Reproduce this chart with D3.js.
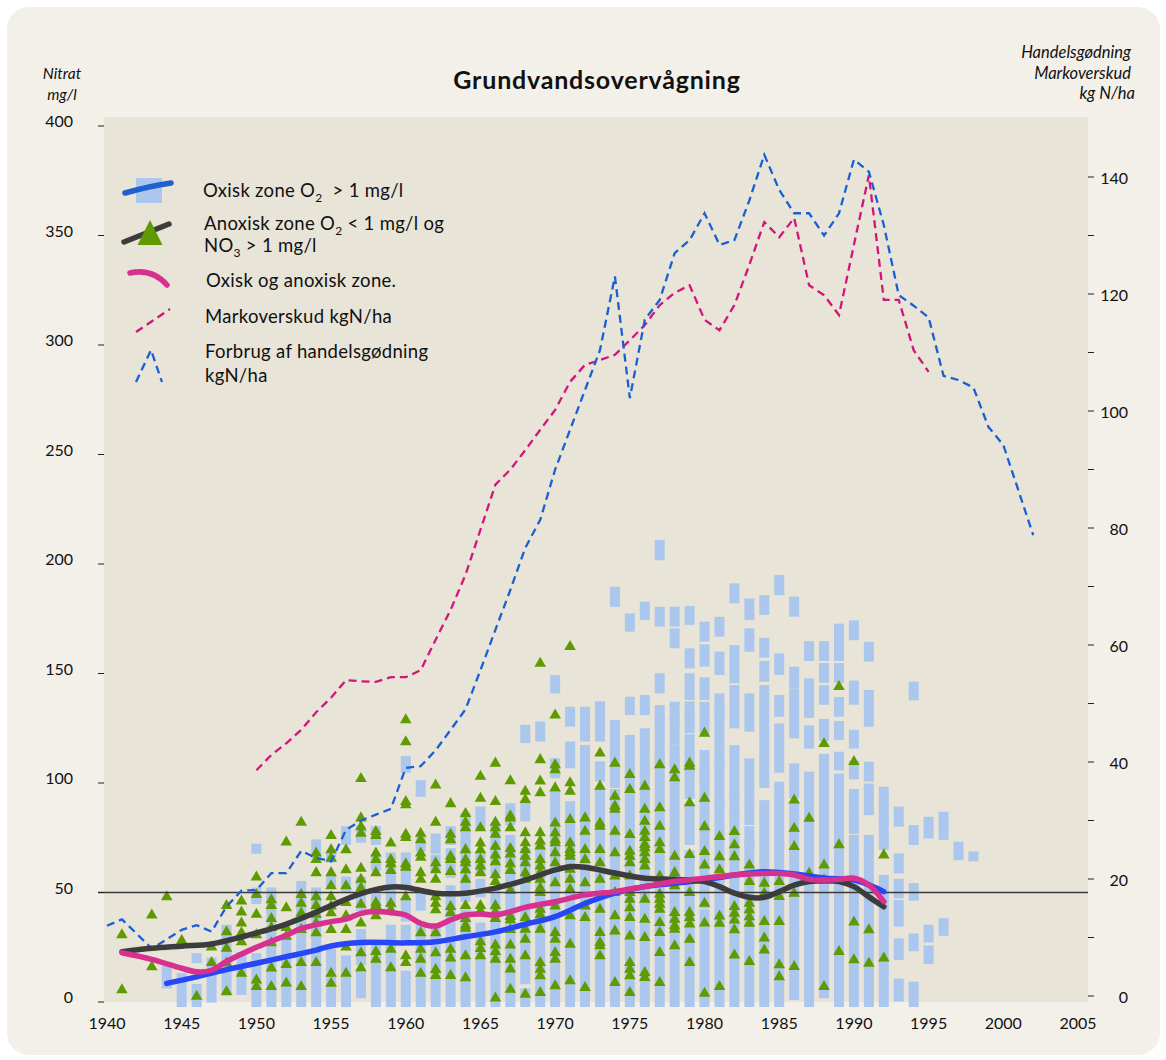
<!DOCTYPE html>
<html><head><meta charset="utf-8">
<script src="https://cdn.jsdelivr.net/npm/d3@7"></script>
<style>
body{margin:0;background:#fff}
svg{display:block}
text{font-family:Lato,"Open Sans",sans-serif;fill:#111}
</style>
</head><body><svg id="c" width="1166" height="1060"></svg>
<script>
// ---------- DATA ----------
const title = "Grundvandsovervågning";
const xTickYears = [1940,1945,1950,1955,1960,1965,1970,1975,1980,1985,1990,1995,2000,2005];
const leftTicks = [0,50,100,150,200,250,300,350,400];
const rightTicks = [0,10,20,30,40,50,60,70,80,90,100,110,120,130,140];
const rightLabels = [0,20,40,60,80,100,120,140];
const limitValue = 50;

// Oxisk zone squares: [year, [[low, high] stacks]] (mg/l)
const oxiskSquares = [
 [1944,[[8.5,15]]],[1945,[[0,11]]],[1946,[[20,20],[0,6]]],[1947,[[2,18]]],[1948,[[5,33]]],
 [1949,[[5.5,20.5]]],[1950,[[70,70],[47,50],[0,20]]],[1951,[[38,50],[0,33]]],[1952,[[0,27]]],
 [1953,[[0,53]]],[1954,[[68,72],[0,50]]],[1955,[[66,66],[55,56],[16,22],[0,11]]],
 [1956,[[74,78],[52,55],[0,19]]],[1957,[[75,78],[44,55],[19,31],[4,12]]],
 [1958,[[74,78],[62,65],[44,47],[6,25],[0,3]]],[1959,[[59,66],[45,55],[0,33]]],
 [1960,[[107,110],[55,66],[39,45],[28,33],[0,12]]],[1961,[[96,99],[71,74],[44,48],[0,34]]],
 [1962,[[70,74.6],[62,65],[0,32]]],[1963,[[74,78],[59,68],[0,51]]],[1964,[[74,84],[48,72],[0,40]]],
 [1965,[[81,87],[60,66],[50,54],[0,34]]],[1966,[[73,79],[60,69],[0,49]]],[1967,[[83,88.5],[0,74]]],
 [1968,[[120.5,124.3],[84.8,89.4],[62,68.1],[10.4,60.5],[0,4]]],
 [1969,[[121.2,125.8],[63.5,69.6],[0,62]]],
 [1970,[[143.2,147],[104.5,109],[89.4,93.9],[0,87.1]]],
 [1971,[[128,132.5],[109,116.7],[0,89.4]]],
 [1972,[[128,132.5],[121.2,125.8],[109,115.1],[100,104.5],[0,97]]],
 [1973,[[130.5,135],[121.2,129.5],[103,107.6],[0,95.5]]],
 [1974,[[182.7,187.3],[100,126.5],[60,95],[0,55]]],
 [1975,[[171.4,175.2],[133.3,137.1],[115.1,119.7],[0,113.6]]],
 [1976,[[176.7,180.5],[133.3,137.9],[104.5,122.7],[93.9,103],[0,90.9]]],
 [1977,[[204,208.7],[173.7,178.2],[143.2,147.8],[129.5,133.3],[114.4,128],[109.8,112.1],[0,106]]],
 [1978,[[173.7,178.2],[163.8,168.3],[130.3,134.8],[119.7,128],[110,115],[0,109]]],
 [1979,[[174.5,178.5],[154.6,159.2],[140.2,147.8],[130,135],[125,128],[115,120],[107,112],[95,104],[74,88],[0,67]]],
 [1980,[[166.8,171.4],[155.4,161],[140.2,146],[124.9,134.8],[104.4,112.8],[45,102],[0,40]]],
 [1981,[[169.1,173.6],[151.6,157.7],[133.3,138.6],[118.8,132.5],[109,114.3],[93,106.7],[0,89.9]]],
 [1982,[[184.3,188.9],[147.8,160.7],[127.2,142.4],[95.3,115],[86.1,92.2],[0,84.6]]],
 [1983,[[176.7,182],[162.2,168.3],[125.7,138.6],[83.1,109],[72,78],[0,70.9]]],
 [1984,[[179,183.5],[159.5,164],[148.5,153.5],[100,142.4],[0,89.9]]],
 [1985,[[188.1,192.7],[151.6,156.9],[132.5,137.9],[107,124.9],[72.4,98.3],[0,70.9]]],
 [1986,[[178.2,182.8],[145.5,150.8],[122.7,140.9],[95.3,106.7],[33,89],[3.2,31.3]]],
 [1987,[[158,162.5],[141,145.5],[132,137],[118,124],[0,102.9]]],
 [1988,[[158,162.5],[148,152.5],[138,142.4],[121.5,127],[95.3,111],[80,94],[12,76],[4,9]]],
 [1989,[[166,170.5],[158,162.5],[148,152.5],[132.5,137],[122,126],[108,112],[91,102],[77,87],[0,73]]],
 [1990,[[167.5,172],[138,144.5],[118,122],[104,108],[88,95],[79,84],[0,74]]],
 [1991,[[157.7,162.2],[136.4,140.2],[128,133.3],[102.9,107.4],[87.6,97.5],[69.4,74],[0,67.9]]],
 [1992,[[91.5,96],[83.8,88.4],[71.7,81.6],[0,55.7]]],
 [1993,[[82.3,86.9],[61,65.6],[49.6,54],[36.7,44.3],[21.5,26.8],[2.5,8.4]]],
 [1994,[[140,144],[74,78.5],[48.5,52],[25.5,29],[0,7]]],
 [1995,[[77,82.3],[29.5,33],[19.6,23.5]]],
 [1996,[[76.3,84.6],[32.5,36]]],
 [1997,[[67,70.9]]],
 [1998,[[66.5,66.5]]]
];

// Anoxisk zone triangles: [year, [values]] (mg/l)
const anoxiskTriangles = [
 [1941,[30.6,5.5]],[1943,[39.7,16]],[1944,[48]],[1945,[28]],[1946,[2.5]],[1947,[25,18]],
 [1948,[44,32,24.5,17.7,4.7]],[1949,[46,41,36,31.5,27.4,13]],[1950,[57,49,40,30.6,10,7]],
 [1951,[46.6,44,38,34,27,15.5,7]],[1952,[73,43,34,30,17,8.6]],[1953,[82,49,45,40.6,33,18,7]],
 [1954,[68,65,59,48,44,40,36,31.5,18]],
 [1955,[76,69.4,65.6,59,53,48,43.8,40.7,33,13,8.5]],
 [1956,[69.4,60.3,53,45.4,39.3,33,25,13]],
 [1957,[102,84,80,77,61,56,52,44.6,36,22.4,15.6]],
 [1958,[77.8,76,68,65,59,45.4,44,39.3,23,19.5]],
 [1959,[72.5,65,63,60,45,42,24,15.6]],
 [1960,[128.8,118.8,91.5,90,76.5,75,63,61.5,48,21,18]],
 [1961,[77,74,68,66,59,56,31.6,24,19.5,13]],
 [1962,[99,82,63.5,60.3,56,48,45,42,31.6,22.4,14.8,12]],
 [1963,[90.5,76.5,74,66.5,65,59.5,43.5,40.7,24,20,12]],
 [1964,[86,82,79.5,69.5,65,63.5,60.3,56,44,38,35,33.6,21,11]],
 [1965,[103,93,79.5,72.5,69.4,65,62,59,44,41.6,27.4,24.4,21]],
 [1966,[109,91.5,82,79.5,76.5,71,67,64,58,55,44,41,38,26,23,19.5,1.7]],
 [1967,[101,85,84,79.5,70,67.5,63,60,51,39,37.5,33,26,19.5,15,5.7]],
 [1968,[96.2,92.4,77.2,72.6,69.6,66.5,63.5,59,56,38.5,33.2,28.6,21,3.5]],
 [1969,[154.6,110.6,100.8,95.5,77.2,73.4,71.2,65,62,59,56,52,49.9,42.3,39.8,33.2,18,14.9,11.9,4.3]],
 [1970,[131,108.3,106,97.7,81.7,77.2,74,72.6,68.1,63.5,54.4,43.8,31.7,28.6,22.5,19.5,7.3]],
 [1971,[162.3,100,96.2,83.3,72.6,69.6,68.1,66.5,60.5,56,51.4,39.3,26.3,9.6]],
 [1972,[84,77.9,69.6,65,54.4,43.8,38.5,6.5]],
 [1973,[113.6,98.5,81.7,80.2,69.6,63.5,56,42.3,31.7,27.1,25.6,21]],
 [1974,[109,93.9,89.4,87.9,77.9,68.1,57.5,49.9,39.3,32.4,8.8]],
 [1975,[103.8,97,76.4,68.8,66.5,63.5,57.5,49.9,46.9,43,38.5,30.1,18,14.9,11.9,4.3]],
 [1976,[98.5,87.9,82.5,77.9,75,71.9,70.4,68.1,65,62,46.9,37.7,29.4,13.4,11.1]],
 [1977,[108.3,88.6,80.2,72.6,69.6,57.5,49.1,46.9,44.6,42.3,36.2,31.7,22.5,8.8]],
 [1978,[106,102.3,66.5,59,53,40.8,37.7,34.7,33.2,25.6]],
 [1979,[109,107.6,90.9,67.3,49.9,40.8,38.5,35.5,28.6,18]],
 [1980,[122.7,93,80,68.6,62.5,45,36,3.9]],
 [1981,[75.5,66.3,60.3,39.2,35.9,7]],
 [1982,[77.8,71.7,66.3,43.5,40.5,37.4,32.9,21.4]],
 [1983,[62.5,55,45,42,38.9,35.9,18.4]],
 [1984,[54.2,49.6,36.7,29.1,23.7]],
 [1985,[54.9,48.1,36.7,16.9,11.5]],
 [1986,[92.2,79.3,70.9,49.6,16.1]],
 [1987,[83.8,58.7]],
 [1988,[118,62.5,55.6,7]],
 [1989,[144,71.7,23]],
 [1990,[109.7,36.5,19.2]],
 [1991,[32.9,17.6]],
 [1992,[67.1,20]]
];

// Smoothed curves (mg/l)
const oxiskYears  = [1944,1946,1948,1950,1952,1954,1955,1957,1960,1962,1964,1966,1968,1970,1972,1974,1976,1978,1980,1982,1984,1986,1988,1990,1991,1992];
const oxiskCurve  = [8.5,11.5,14.8,17.7,20.7,23.7,25.6,27.2,27,27.5,29.8,32,35.5,39,45,49.7,52.7,54.2,55.7,58,59.5,58.5,56.6,55.7,53.5,50.4];
const anoxYears   = [1941,1943,1945,1947,1949,1950,1952,1954,1955,1957,1959,1960,1962,1964,1966,1968,1970,1971,1972,1974,1976,1978,1980,1981,1982,1983,1984,1985,1986,1987,1988,1989,1990,1991,1992];
const anoxCurve   = [23,24.5,25.5,26.5,29.7,31.5,35.6,41,44,49.5,52.5,52.3,49.7,49.7,52,55.7,60.3,61.8,61.5,58.9,56.5,56,55,52.7,49.7,47.8,47.8,50.4,53.4,55,55.4,55,52.7,48,43.5];
const bothYears   = [1941,1943,1945,1946,1947,1948,1950,1952,1953,1955,1956,1957,1958,1959,1960,1961,1962,1963,1964,1965,1966,1967,1968,1970,1972,1974,1976,1978,1980,1982,1984,1985,1986,1987,1988,1989,1990,1991,1992];
const bothCurve   = [22.5,19.5,15.4,13.8,14.5,18.5,25,30.5,33.5,36.7,37.8,40.5,41.3,40.8,39.7,35.9,34.7,37.5,39.7,40.2,39.7,41.3,43.2,45.8,48.9,50.4,52.7,55,56.5,58,58.7,58.7,58,56,55.7,56,56.5,53.4,45.8];

// Dashed series (kg N/ha, right axis)
const fertYears = [1940,1941,1943,1945,1946,1947,1948,1949,1950,1951,1952,1953,1954,1955,1956,1957,1958,1959,1960,1961,1962,1963,1964,1965,1966,1967,1968,1969,1970,1971,1972,1973,1974,1975,1976,1977,1978,1979,1980,1981,1982,1983,1984,1985,1986,1987,1988,1989,1990,1991,1992,1993,1994,1995,1996,1997,1998,1999,2000,2001,2002];
const fertValues = [12,13.1,8.1,11.3,12.1,11,15.3,18,18.1,21,21,24.8,23.6,23,28.4,30,31,32,39,39.3,42,45.5,49,55.7,62.6,69.4,76.6,81.4,90,96.8,103.6,110.4,123,102.2,115.6,119,127,129.2,133.8,128.4,129.2,136,143.8,137.8,133.8,133.8,130,133.8,143,140.9,131.8,119.8,118,116,106,105.3,104,97.3,94.2,86.5,78.8];
const surplusYears = [1950,1951,1952,1953,1954,1955,1956,1957,1958,1959,1960,1961,1962,1963,1964,1965,1966,1967,1968,1969,1970,1971,1972,1973,1974,1975,1976,1977,1978,1979,1980,1981,1982,1983,1984,1985,1986,1987,1988,1989,1990,1991,1992,1993,1994,1995];
const surplusValues = [38.6,41.2,43.2,45.5,48.5,51,54,53.8,53.7,54.5,54.5,55.7,60.9,66,72,79.7,87.4,90,93.3,96.8,100.2,105,107.9,108.7,109.6,112.1,114.7,118.1,120.2,121.5,115.6,113.8,118.1,125,132.3,129.7,133,121.5,119.8,116.4,128.4,140.3,119,119,110.4,106.7];

// ---------- DRAW ----------
const svg = d3.select("#c");
const plot = {left:104, right:1088, top:117, bottom:1002};
const x = d3.scaleLinear().domain([1940,2005]).range([107,1078]);
const yL = d3.scaleLinear().domain([0,400]).range([1002,126]);
const yR = d3.scaleLinear().domain([0,140]).range([996,177]);

const C = {panel:"#f3f0e9", plotBg:"#e8e4d7", sq:"#abc7ee", tri:"#5f9b00",
  blue:"#2747f7", gray:"#3c3c3c", pink:"#d8308e", dPink:"#d2157a", dBlue:"#1b5fd4"};

svg.append("rect").attr("x",7).attr("y",7).attr("width",1153).attr("height",1048)
  .attr("rx",22).attr("fill",C.panel);
svg.append("rect").attr("x",plot.left).attr("y",plot.top)
  .attr("width",plot.right-plot.left).attr("height",plot.bottom-plot.top).attr("fill",C.plotBg);

// squares
const sqG = svg.append("g");
oxiskSquares.forEach(([yr, segs]) => {
  segs.forEach(([lo,hi]) => {
    sqG.append("rect").attr("x", x(yr)-5).attr("y", yL(hi)-5)
      .attr("width",10).attr("height", yL(lo)-yL(hi)+10).attr("fill", C.sq);
  });
});
// triangles
const tri = d3.symbol().type(d3.symbolTriangle).size(58);
const trG = svg.append("g");
anoxiskTriangles.forEach(([yr, vals]) => {
  vals.forEach(v => {
    trG.append("path").attr("d", tri()).attr("transform", `translate(${x(yr)},${yL(v)})`).attr("fill", C.tri);
  });
});

// limit line
svg.append("line").attr("x1",98).attr("x2",plot.right).attr("y1",yL(limitValue)).attr("y2",yL(limitValue))
  .attr("stroke","#3a3a3a").attr("stroke-width",1.3);

// dashed lines
const lineR = d3.line().x(d=>x(d[0])).y(d=>yR(d[1]));
svg.append("path").attr("d", lineR(surplusYears.map((y,i)=>[y,surplusValues[i]])))
  .attr("fill","none").attr("stroke",C.dPink).attr("stroke-width",2.3).attr("stroke-dasharray","8,5");
svg.append("path").attr("d", lineR(fertYears.map((y,i)=>[y,fertValues[i]])))
  .attr("fill","none").attr("stroke",C.dBlue).attr("stroke-width",2.3).attr("stroke-dasharray","8,5");

// smooth curves
const lineL = d3.line().x(d=>x(d[0])).y(d=>yL(d[1])).curve(d3.curveCatmullRom.alpha(0.5));
[[oxiskYears,oxiskCurve,C.blue],[anoxYears,anoxCurve,C.gray],[bothYears,bothCurve,C.pink]].forEach(([ys,vs,col])=>{
  svg.append("path").attr("d", lineL(ys.map((y,i)=>[y,vs[i]])))
    .attr("fill","none").attr("stroke",col).attr("stroke-width",5.5).attr("stroke-linecap","round");
});

// axes
const axL = svg.append("g");
leftTicks.forEach(t=>{
  axL.append("line").attr("x1",98).attr("x2",104).attr("y1",yL(t)).attr("y2",yL(t)).attr("stroke","#222").attr("stroke-width",1);
  axL.append("text").attr("x",73).attr("y",yL(t)+1).attr("text-anchor","end").attr("font-size",16).text(t);
});
const axR = svg.append("g");
rightTicks.forEach(t=>{
  axR.append("line").attr("x1",1088).attr("x2",1094).attr("y1",yR(t)).attr("y2",yR(t)).attr("stroke","#222").attr("stroke-width",1);
});
rightLabels.forEach(t=>{
  axR.append("text").attr("x",1128).attr("y",yR(t)+7).attr("text-anchor","end").attr("font-size",16).text(t);
});
xTickYears.forEach(t=>{
  svg.append("text").attr("x",x(t)).attr("y",1029).attr("text-anchor","middle").attr("font-size",16).text(t);
});

// titles
svg.append("text").attr("x",597).attr("y",89).attr("text-anchor","middle").attr("font-size",25)
  .attr("letter-spacing",0.8).attr("font-weight","bold").text(title);
[["Nitrat",79],["mg/l",100]].forEach(([t,yy])=>svg.append("text").attr("x",62).attr("y",yy)
  .attr("text-anchor","middle").attr("font-style","italic").attr("font-size",15.5).text(t));
[["Handelsgødning",58,1131],["Markoverskud",79,1131],["kg N/ha",99,1135]].forEach(([t,yy,xx])=>svg.append("text")
  .attr("x",xx).attr("y",yy).attr("text-anchor","end").attr("font-style","italic").attr("font-size",16.5).text(t));

// legend
const lg = svg.append("g");
lg.append("rect").attr("x",136).attr("y",178).attr("width",26).attr("height",25).attr("fill",C.sq);
lg.append("path").attr("d","M125,193 Q150,186 171,183").attr("fill","none").attr("stroke","#1e5fd2").attr("stroke-width",5.5).attr("stroke-linecap","round");
lg.append("path").attr("d","M124,242 L169,224").attr("fill","none").attr("stroke",C.gray).attr("stroke-width",5.5).attr("stroke-linecap","round");
lg.append("path").attr("d","M150,220 L162.5,245 L137.5,245 Z").attr("fill",C.tri);
lg.append("path").attr("d","M130,273 Q152,268 167,285").attr("fill","none").attr("stroke",C.pink).attr("stroke-width",5.5).attr("stroke-linecap","round");
lg.append("path").attr("d","M136,332 L170,309").attr("fill","none").attr("stroke",C.dPink).attr("stroke-width",2.3).attr("stroke-dasharray","8,5");
lg.append("path").attr("d","M136,382 L151,350 L162,382").attr("fill","none").attr("stroke",C.dBlue).attr("stroke-width",2.3).attr("stroke-dasharray","8,5");

function legText(xx, yy, parts){
  const t = lg.append("text").attr("x",xx).attr("y",yy).attr("font-size",18.5).attr("letter-spacing",0.3);
  parts.forEach(p=>{
    if (typeof p === "string") t.append("tspan").text(p);
    else { t.append("tspan").attr("dy",5).attr("font-size",12).text(p.sub); t.append("tspan").attr("dy",-5).text(p.after); }
  });
}
legText(203,197,["Oxisk zone O",{sub:"2",after:"\u00a0\u00a0> 1 mg/l"}]);
legText(204,230,["Anoxisk zone O",{sub:"2",after:" < 1 mg/l og"}]);
legText(204,252,["NO",{sub:"3",after:" > 1 mg/l"}]);
legText(206,287,["Oxisk og anoxisk zone."]);
legText(205,323,["Markoverskud kgN/ha"]);
legText(205,358,["Forbrug af handelsgødning"]);
legText(205,382,["kgN/ha"]);
</script>
</body></html>
